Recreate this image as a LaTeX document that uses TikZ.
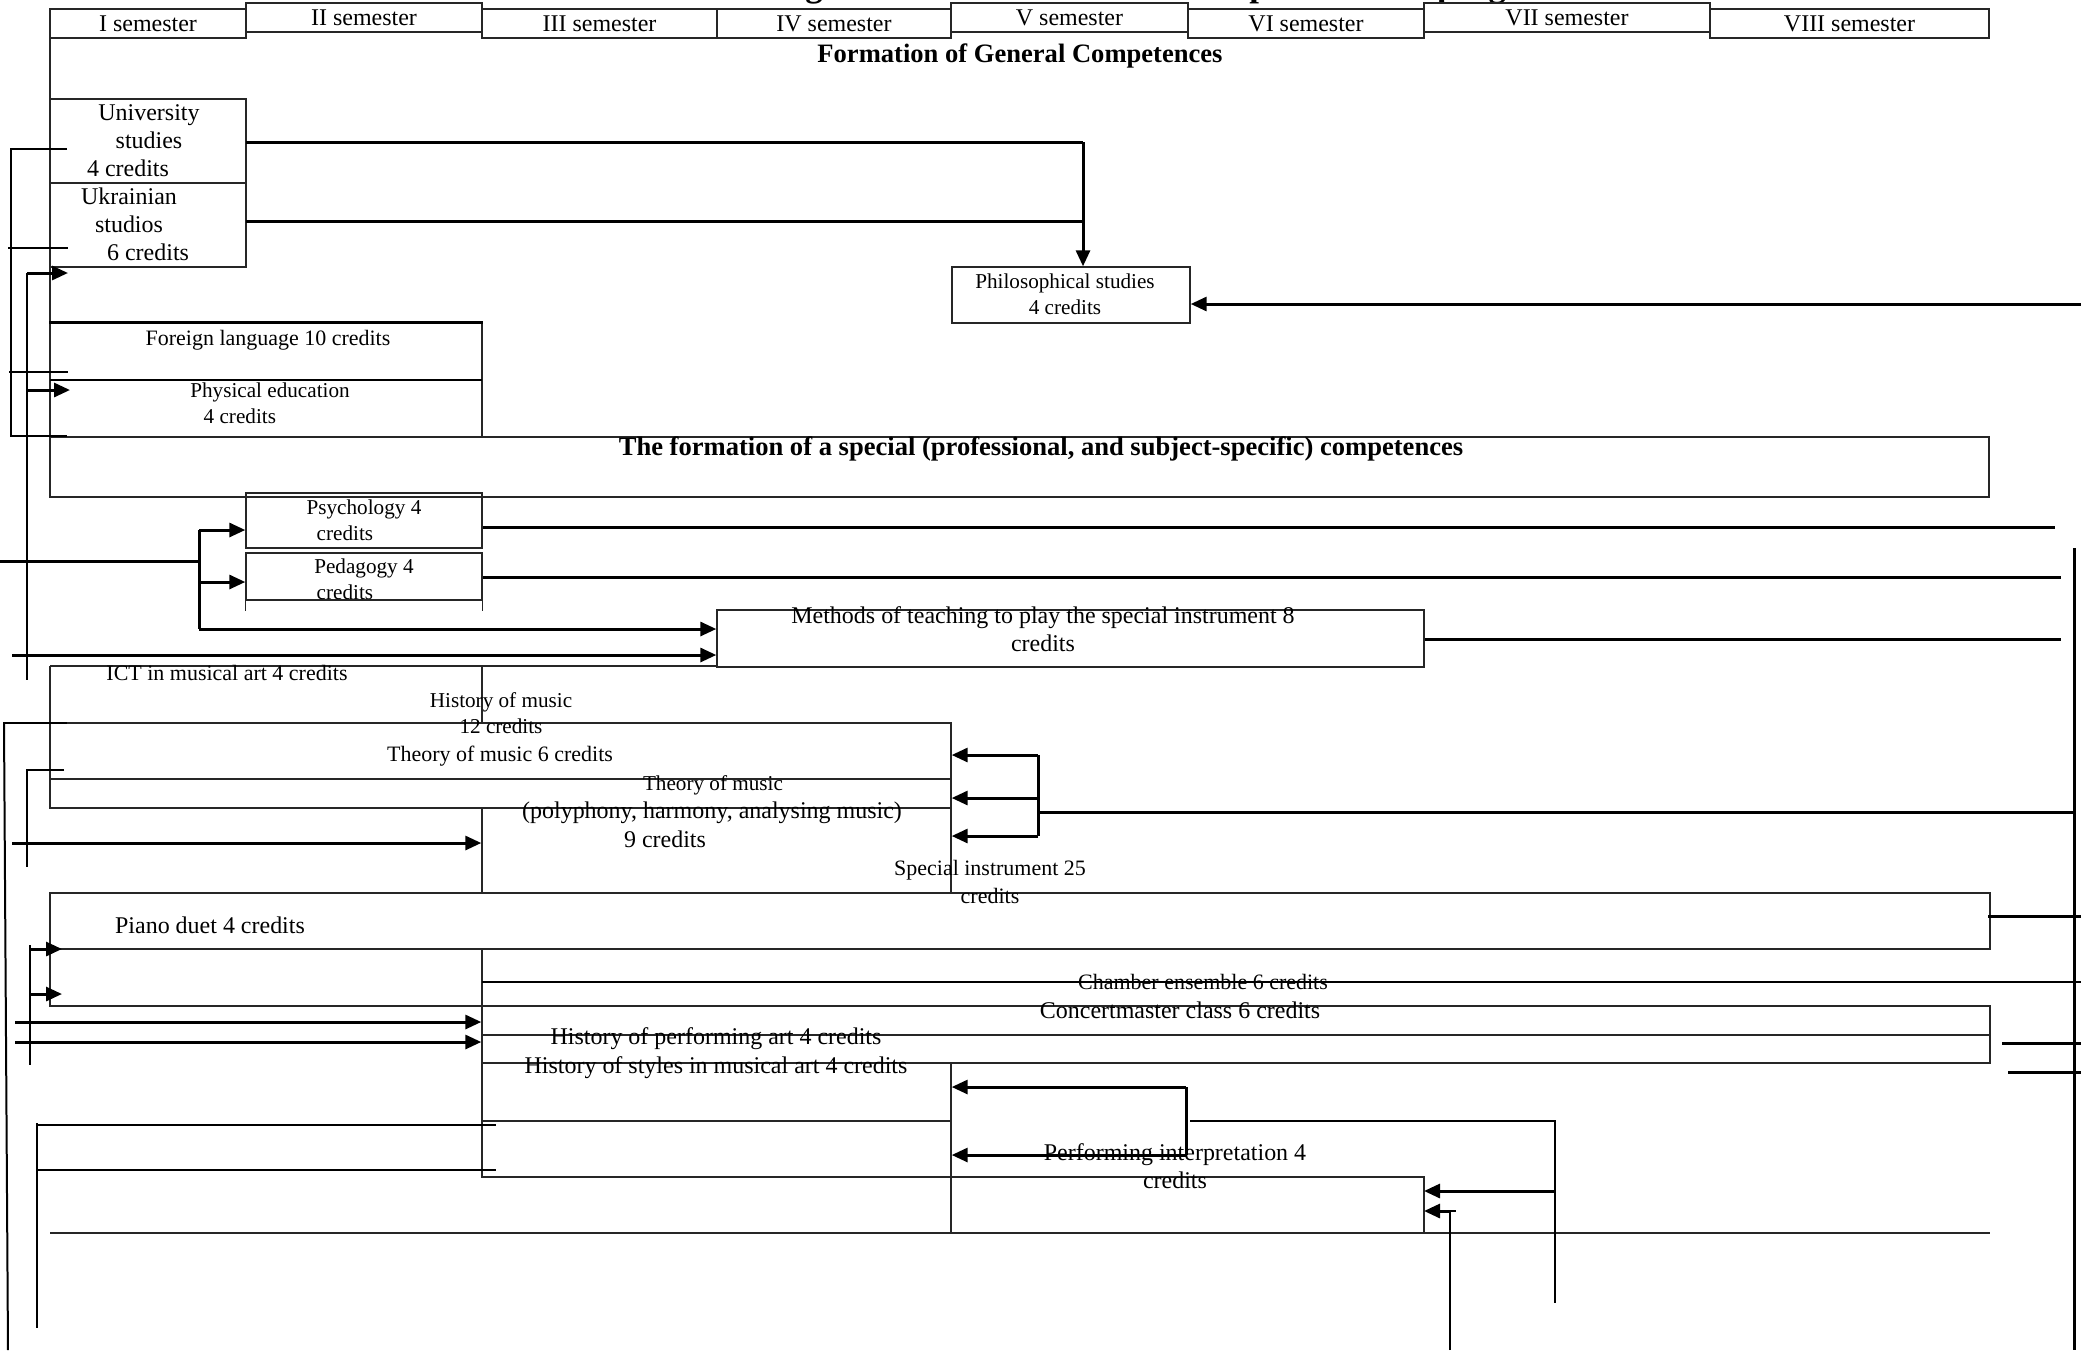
\documentclass[tikz,border=0pt]{standalone}
\usepackage{fontspec}
\setmainfont{Liberation Serif}
\usetikzlibrary{arrows.meta,fit}

\begin{document}
\begin{tikzpicture}[
  x=0.0176cm, y=-0.0176cm,
  >={Triangle[length=8pt,width=7pt]},
  box/.style={draw=black!85, line width=0.7pt, inner sep=0pt},
  lab/.style={inner sep=0pt, align=center, font=\fontsize{12}{14}\selectfont},
  lab11/.style={lab, font=\fontsize{11}{14}\selectfont},
  small/.style={lab, font=\fontsize{10.6}{13}\selectfont},
  head/.style={inner sep=0pt, font=\bfseries\fontsize{13.3}{16}\selectfont},
  flow/.style={line width=1.5pt, ->},
  link/.style={line width=1.5pt},
  stub/.style={line width=1pt}
]
\useasboundingbox (0,0) rectangle (2081,1350);

% title, cut by the page edge
\node[anchor=base west, inner sep=0pt, font=\bfseries\fontsize{17.4}{20}\selectfont] (title)
  at (550,-3.5) {Structural and logic scheme of the educational-professional program};

% semesters
\node[box, fit={(50,9) (246,38)}] (sem1) {};
\node[box, fit={(246,3) (482,32)}] (sem2) {};
\node[box, fit={(482,9) (717,38)}] (sem3) {};
\node[box, fit={(717,9) (951,38)}] (sem4) {};
\node[box, fit={(951,3) (1188,32)}] (sem5) {};
\node[box, fit={(1188,9) (1424,38)}] (sem6) {};
\node[box, fit={(1424,3) (1710,32)}] (sem7) {};
\node[box, fit={(1710,9) (1989,38)}] (sem8) {};
\node[lab] (sem1T) at (sem1) {I semester};
\node[lab] (sem2T) at (sem2) {II semester};
\node[lab] (sem3T) at (sem3) {III semester};
\node[lab] (sem4T) at (sem4) {IV semester};
\node[lab] (sem5T) at (sem5) {V semester};
\node[lab] (sem6T) at (sem6) {VI semester};
\node[lab] (sem7T) at (sem7) {VII semester};
\node[lab] (sem8T) at (sem8) {VIII semester};

\node[head] (gen) at (1020,56) {Formation of General Competences};

% general block
\draw[box] (50,38) -- (50,497);
\node[box, fit={(50,99) (246,183)}] (univ) {};
\node[box, fit={(50,183) (246,267)}] (ukr) {};
\node[box, fit={(952,267) (1190,323)}] (phil) {};
\node[box, fit={(50,323) (482,437)}] (foreign) {};
\draw[line width=1.2pt] (foreign.north west) -- (foreign.north east);
\draw[line width=1.2pt] (50,380) -- (482,380);

% special block
\node[box, fit={(50,437) (1989,497)}] (special) {};
\node[box, fit={(246,493) (482,548)}] (psych) {};
\node[box, fit={(246,553) (482,600)}] (pedag) {};
\draw[box] (pedag.south west) -- ++(0,10) (pedag.south east) -- ++(0,10);
\node[box, fit={(717,610) (1424,667)}] (methods) {};
\draw[box] (50,666) -- (717,666);
\draw[box] (50,666) -- (50,723);
\draw[box] (482,666) -- (482,723);
\node[box, fit={(50,723) (951,808)}] (hist) {};
\draw[box] (50,779) -- (951,779);
\node[box, fit={(482,808) (951,893)}] (tomPoly) {};
\node[box, fit={(50,893) (1990,949)}] (piano) {};
\draw[box] (50,949) -- (50,1006) -- (482,1006);
\draw[box] (482,949) -- (482,1006);
\node[box, fit={(482,1006) (1990,1063)}] (concert) {};
\draw[box] (482,1035) -- (1990,1035);
\draw[box] (482,1063) -- (482,1177) -- (1424,1177) -- (1424,1233);
\draw[box] (482,1121) -- (951,1121);
\draw[box] (951,1063) -- (951,1233);
\draw[box] (50,1233) -- (1990,1233);
\coordinate (perfR) at (1424,1177);
\draw[line width=1.2pt] (482,982) -- (2081,982);

% general connectors
\coordinate (uniOut) at (246,142);
\coordinate (ukrOut) at (246,221);
\coordinate (philTop) at (1083,142);
\draw[link] (uniOut) -- (philTop);
\draw[link] (ukrOut) -- (ukrOut -| philTop);
\draw[flow] (philTop) -- (philTop |- phil.north);
\coordinate (philSrc) at (2081,304);
\draw[flow] (philSrc) -- (philSrc -| phil.east);

% left side
\draw[stub] (67,149) -- (11,149) -- (11,436) -- (67,436);
\draw[stub] (8,248) -- (68,248);
\draw[stub] (9,372) -- (68,372);
\draw[stub] (27,273) -- (27,680);
\draw[flow] (27,273) -- (68,273);
\draw[flow] (27,390) -- (70,390);

\coordinate (splitIn) at (0,561);
\coordinate (spA) at (199,530);
\coordinate (spB) at (199,582);
\coordinate (spC) at (199,629);
\draw[link] (splitIn) -- (splitIn -| spA);
\draw[link] (spA) -- (spC);
\draw[flow] (spA) -- (spA -| psych.west);
\draw[flow] (spB) -- (spB -| pedag.west);
\draw[flow] (spC) -- (spC -| methods.west);
\coordinate (ictIn) at (12,655);
\draw[flow] (ictIn) -- (ictIn -| methods.west);

% right side
\coordinate (psyR) at (2055,527);
\coordinate (pedR) at (2061,577);
\coordinate (metR) at (2061,639);
\draw[link] (psyR -| psych.east) -- (psyR);
\draw[link] (pedR -| pedag.east) -- (pedR);
\draw[link] (metR -| methods.east) -- (metR);
\coordinate (railTop) at (2074,548);
\coordinate (railBot) at (2074,1350);
\draw[link] (railTop) -- (railBot);

% special instrument
\coordinate (siA) at (1038,755);
\coordinate (siB) at (1038,798);
\coordinate (siC) at (1038,836);
\coordinate (siOut) at (2073,812);
\draw[link] (siA) -- (siC);
\draw[link] (siOut) -- (siOut -| siA);
\draw[flow] (siA) -- (siA -| hist.east);
\draw[flow] (siB) -- (siB -| hist.east);
\draw[flow] (siC) -- (siC -| tomPoly.east);

\draw[stub] (3,723) -- (67,723);
\draw[stub] (4,723) -- (8,1350);
\draw[stub] (64,770) -- (27,770) -- (27,867);
\coordinate (tomIn) at (12,843);
\draw[flow] (tomIn) -- (tomIn -| tomPoly.west);

% performing block
\draw[stub] (30,945) -- (30,1065);
\draw[flow] (30,949) -- (62,949);
\draw[flow] (30,994) -- (62,994);
\coordinate (hpIn) at (15,1022);
\coordinate (hsIn) at (15,1042);
\draw[flow] (hpIn) -- (hpIn -| concert.west);
\draw[flow] (hsIn) -- (hsIn -| concert.west);
\draw[stub] (37,1123) -- (37,1328);
\draw[stub] (37,1125) -- (496,1125);
\draw[stub] (37,1170) -- (496,1170);

\coordinate (pfA) at (1186,1087);
\coordinate (pfB) at (1186,1155);
\draw[flow] (pfA) -- (pfA -| hist.east);
\draw[link] (pfA) -- (pfB);
\draw[flow] (pfB) -- (pfB -| hist.east);
\coordinate (pfC) at (1190,1121);
\coordinate (pfD) at (1555,1121);
\coordinate (pfE) at (1555,1303);
\draw[stub] (pfC) -- (pfD) -- (pfE);
\coordinate (pfF) at (1555,1191);
\draw[flow] (pfF) -- (pfF -| perfR);
\coordinate (pfG) at (1450,1350);
\coordinate (pfH) at (1450,1211);
\draw[stub] (pfG) -- (pfH) -- ++(6,0);
\draw[flow] (pfH) -- (pfH -| perfR);

\draw[link] (1988,916) -- (2081,916);
\draw[link] (2002,1043) -- (2081,1043);
\draw[link] (2008,1072) -- (2081,1072);

% texts
\node[lab] (univT) at (149,141) {University\\studies\\4 credits\hspace*{0.74cm}};
\node[lab] (ukrT) at (129,224) {Ukrainian\\studios\\\hspace*{0.67cm}6 credits};
\node[small] (philT) at (1065,294) {Philosophical studies\\4 credits};
\node[lab11] (forT) at (268,340) {Foreign language 10 credits};
\node[small] (physT) at (270,403) {Physical education\\4 credits\hspace*{1.06cm}};
\node[head] (specT) at (1041,449) {The formation of a special (professional, and subject-specific) competences};
\node[small] (psyT) at (364,520) {Psychology 4\\credits\hspace*{0.67cm}};
\node[small] (pedT) at (364,579) {Pedagogy 4\\credits\hspace*{0.67cm}};
\node[lab] (metT) at (1043,629) {Methods of teaching to play the special instrument 8\\credits};
\node[lab11] (ictT) at (227,673) {ICT in musical art 4 credits};
\node[small] (histT) at (501,713) {History of music\\12 credits};
\node[lab11] (tomT) at (500,756) {Theory of music 6 credits};
\node[small] (tpT) at (713,785) {Theory of music};
\node[lab] (tpT2) at (712,813) {(polyphony, harmony, analysing music)};
\node[lab] (tpT3) at (665,839) {9 credits};
\node[lab11] (siT) at (990,882) {Special instrument 25\\credits};
\node[lab] (pdT) at (210,925) {Piano duet 4 credits};
\node[lab11] (chT) at (1203,982) {Chamber ensemble 6 credits};
\node[lab] (cmT) at (1180,1010) {Concertmaster class 6 credits};
\node[lab] (hpT) at (716,1039) {History of performing art 4 credits};
\node[lab] (hsT) at (716,1068) {History of styles in musical art 4 credits};
\node[lab] (pfT) at (1175,1166) {Performing interpretation 4\\credits};

\end{tikzpicture}
\end{document}
